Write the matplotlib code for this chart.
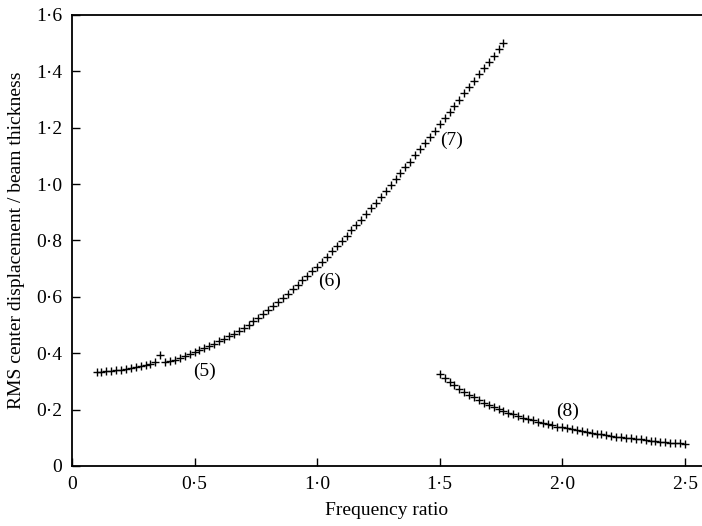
import matplotlib
matplotlib.use("Agg")
import matplotlib.pyplot as plt

plt.rcParams['font.family'] = ['Liberation Serif', 'DejaVu Serif']

# lower branch (5)-(7)
freq_a = [0.10, 0.12, 0.14, 0.16, 0.18, 0.20, 0.22, 0.24, 0.26, 0.28,
          0.30, 0.32, 0.34, 0.36, 0.38, 0.40, 0.42, 0.44, 0.46, 0.48,
          0.50, 0.52, 0.54, 0.56, 0.58, 0.60, 0.62, 0.64, 0.66, 0.68,
          0.70, 0.72, 0.74, 0.76, 0.78, 0.80, 0.82, 0.84, 0.86, 0.88,
          0.90, 0.92, 0.94, 0.96, 0.98, 1.00, 1.02, 1.04, 1.06, 1.08,
          1.10, 1.12, 1.14, 1.16, 1.18, 1.20, 1.22, 1.24, 1.26, 1.28,
          1.30, 1.32, 1.34, 1.36, 1.38, 1.40, 1.42, 1.44, 1.46, 1.48,
          1.50, 1.52, 1.54, 1.56, 1.58, 1.60, 1.62, 1.64, 1.66, 1.68,
          1.70, 1.72, 1.74, 1.76]
rms_a = [0.334, 0.335, 0.337, 0.338, 0.340, 0.342, 0.344, 0.347, 0.350, 0.354,
         0.358, 0.362, 0.368, 0.394, 0.368, 0.372, 0.377, 0.383, 0.389, 0.396,
         0.403, 0.410, 0.417, 0.425, 0.433, 0.442, 0.451, 0.460, 0.470, 0.480,
         0.490, 0.501, 0.513, 0.525, 0.538, 0.552, 0.566, 0.580, 0.595, 0.611,
         0.627, 0.643, 0.659, 0.675, 0.691, 0.707, 0.725, 0.743, 0.761, 0.779,
         0.798, 0.817, 0.836, 0.855, 0.874, 0.894, 0.914, 0.934, 0.954, 0.975,
         0.996, 1.017, 1.038, 1.059, 1.080, 1.102, 1.124, 1.146, 1.168, 1.190,
         1.212, 1.234, 1.256, 1.278, 1.300, 1.322, 1.344, 1.366, 1.389, 1.411,
         1.434, 1.456, 1.479, 1.501]

# upper branch (8)
freq_b = [1.50, 1.52, 1.54, 1.56, 1.58, 1.60, 1.62, 1.64, 1.66, 1.68,
          1.70, 1.72, 1.74, 1.76, 1.78, 1.80, 1.82, 1.84, 1.86, 1.88,
          1.90, 1.92, 1.94, 1.96, 1.98, 2.00, 2.02, 2.04, 2.06, 2.08,
          2.10, 2.12, 2.14, 2.16, 2.18, 2.20, 2.22, 2.24, 2.26, 2.28,
          2.30, 2.32, 2.34, 2.36, 2.38, 2.40, 2.42, 2.44, 2.46, 2.48, 2.50]
rms_b = [0.326, 0.311, 0.299, 0.286, 0.274, 0.263, 0.252, 0.243, 0.234, 0.225,
         0.217, 0.209, 0.202, 0.195, 0.189, 0.183, 0.177, 0.172, 0.167, 0.162,
         0.157, 0.153, 0.148, 0.144, 0.140, 0.137, 0.133, 0.130, 0.126, 0.123,
         0.120, 0.117, 0.115, 0.112, 0.109, 0.107, 0.104, 0.102, 0.100, 0.098,
         0.096, 0.094, 0.092, 0.090, 0.088, 0.086, 0.084, 0.083, 0.081, 0.080, 0.078]

labels = ['(5)', '(6)', '(7)', '(8)']
label_xy = [(0.54, 0.335), (1.05, 0.655), (1.55, 1.155), (2.02, 0.195)]

xticks = [0, 0.5, 1.0, 1.5, 2.0, 2.5]
xticklabels = ['0', '0\u00b75', '1\u00b70', '1\u00b75', '2\u00b70', '2\u00b75']
yticks = [0, 0.2, 0.4, 0.6, 0.8, 1.0, 1.2, 1.4, 1.6]
yticklabels = ['0', '0\u00b72', '0\u00b74', '0\u00b76', '0\u00b78',
               '1\u00b70', '1\u00b72', '1\u00b74', '1\u00b76']

fig = plt.figure(figsize=(7.02, 5.26), dpi=100)
ax = fig.add_axes([0.1026, 0.1141, 0.8974, 0.8574])

ax.plot(freq_a, rms_a, 'k+', markersize=6, markeredgewidth=1.0)
ax.plot(freq_b, rms_b, 'k+', markersize=6, markeredgewidth=1.0)

for txt, (x, y) in zip(labels, label_xy):
    ax.text(x, y, txt, fontsize=14, ha='center', va='center')

ax.set_xlim(0, 2.57)
ax.set_ylim(0, 1.6)
ax.set_xticks(xticks)
ax.set_xticklabels(xticklabels)
ax.set_yticks(yticks)
ax.set_yticklabels(yticklabels)
ax.tick_params(direction='in', length=6, width=1, labelsize=14, pad=7)
ax.spines['right'].set_visible(False)
for s in ['left', 'bottom', 'top']:
    ax.spines[s].set_linewidth(1.3)

ax.set_xlabel('Frequency ratio', fontsize=14, labelpad=7)
ax.set_ylabel('RMS center displacement / beam thickness', fontsize=14, labelpad=8)

fig.savefig('out.png', dpi=100)
